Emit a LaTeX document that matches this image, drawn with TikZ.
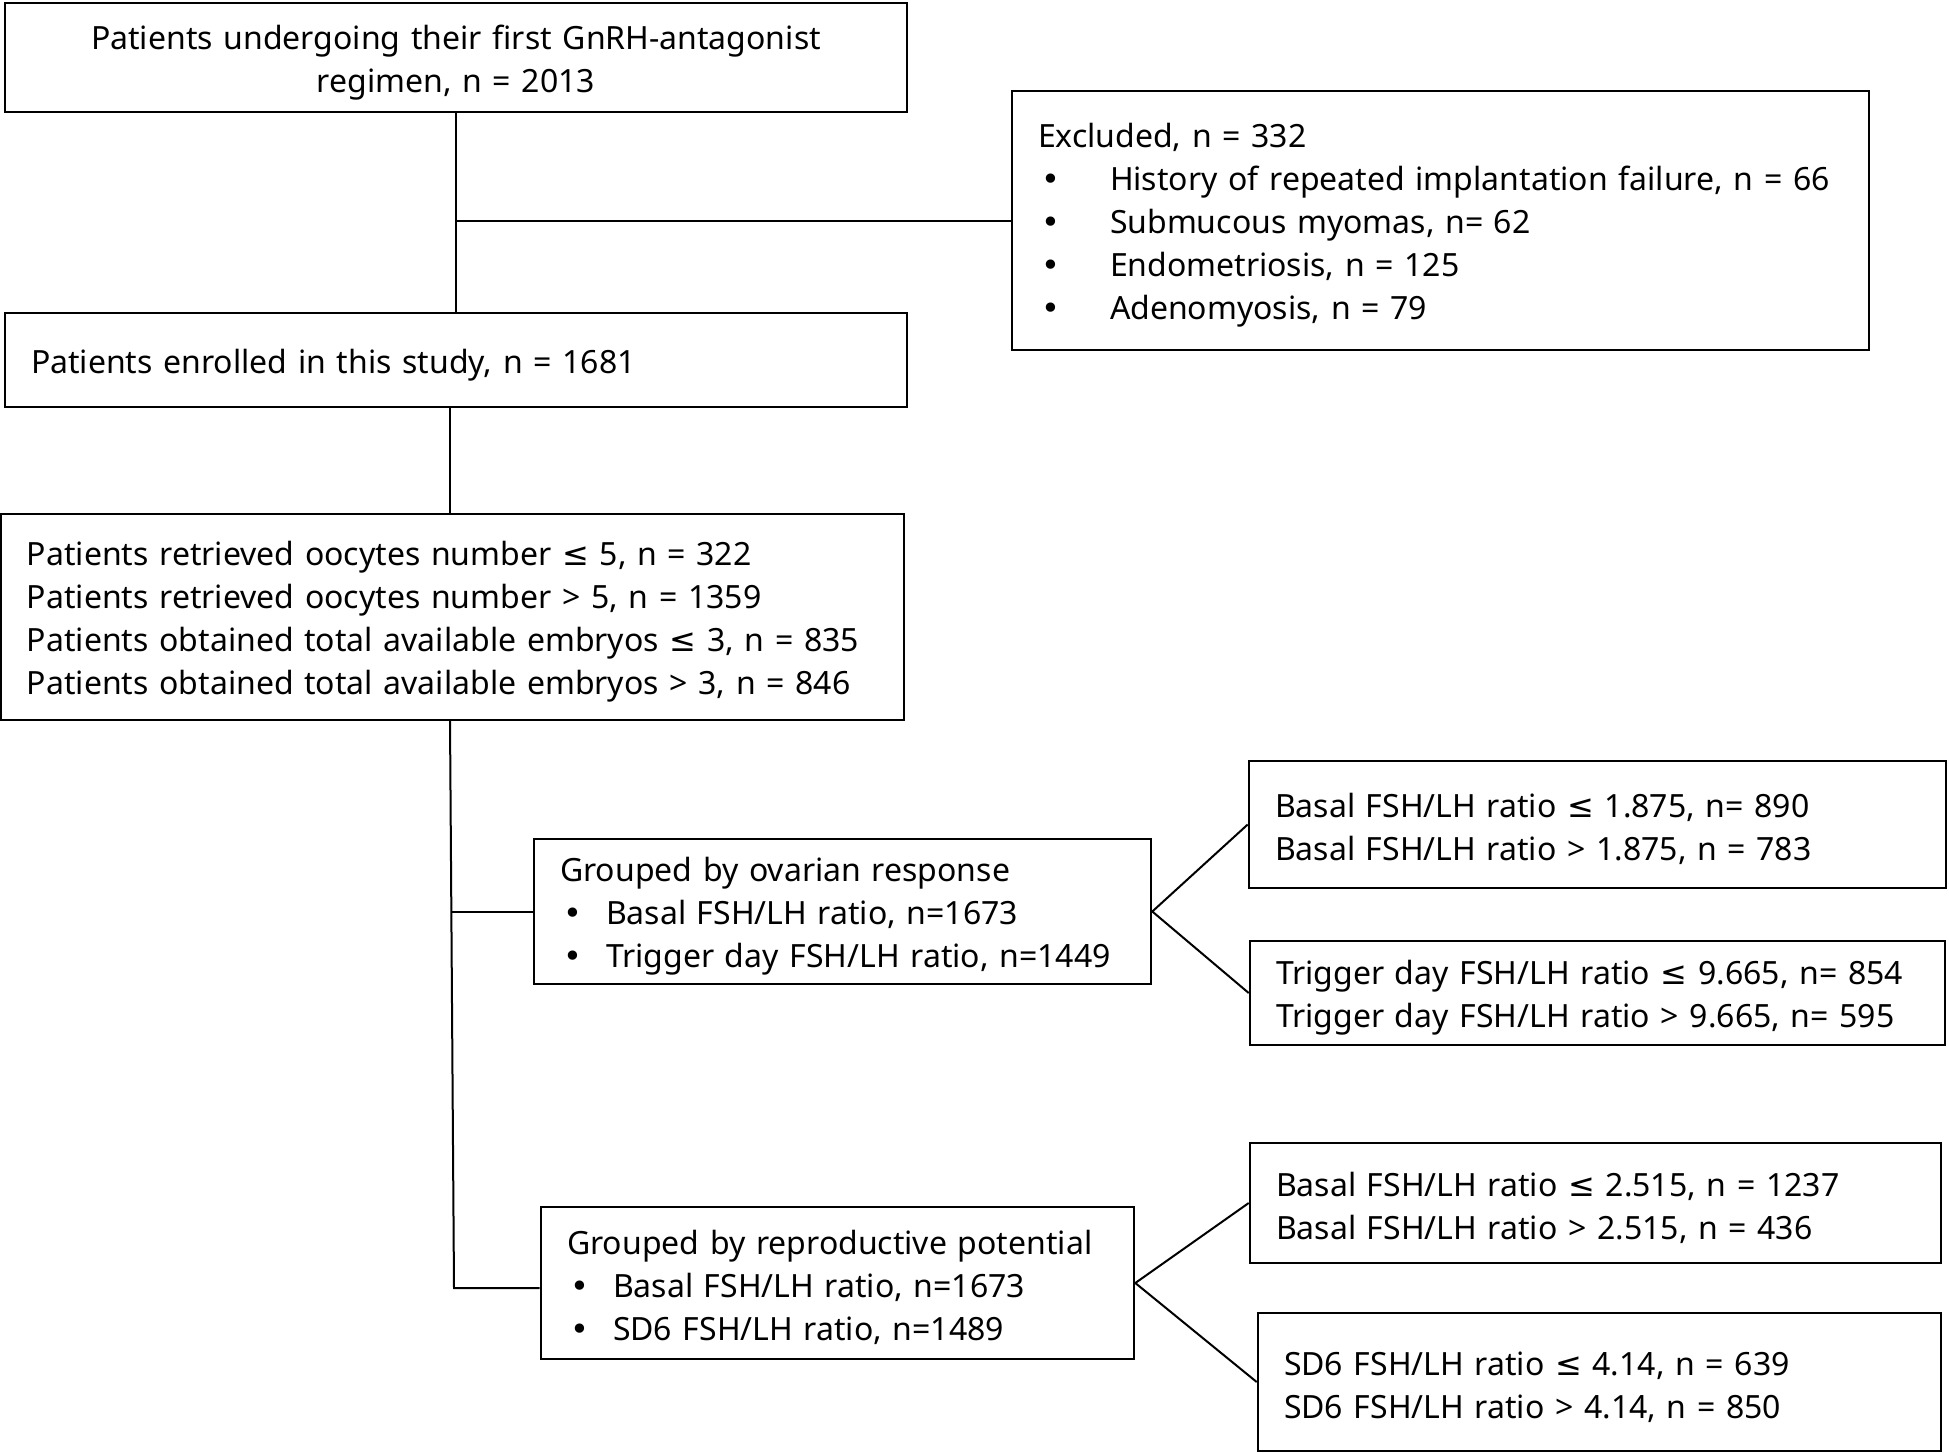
\documentclass[tikz,border=0pt]{standalone}
\usepackage{fontspec}
\setmainfont{Noto Sans}
\newfontfamily\symfont{DejaVu Sans}
\newcommand\blt[1]{\hspace*{3pt}\makebox[#1][l]{{\symfont •}}}
\newcommand\lte{{\symfont ≤}}
\begin{document}
\begin{tikzpicture}[x=1pt,y=-1pt,
  box/.style={draw, line width=2.6pt, rectangle, inner xsep=26pt, inner ysep=0pt,
    align=left, font=\fontsize{32}{43}\selectfont,
    execute at begin node={\rule{0pt}{34pt}}},
  link/.style={line width=2pt}]
\fill[white] (0,0) rectangle (1949,1453);
\useasboundingbox (0,0) rectangle (1949,1453);

\node[box, minimum width=902pt, minimum height=109pt, text width=850pt, align=center] (b1) at (456,57.5)
  {Patients undergoing their first GnRH-antagonist\\regimen, n = 2013};
\node[box, minimum width=902pt, minimum height=94pt, text width=850pt] (b2) at (456,360)
  {Patients enrolled in this study, n = 1681};
\node[box, minimum width=857pt, minimum height=259pt, text width=805pt] (ex) at (1440.5,220.5)
  {Excluded, n = 332\\
   \blt{69pt}History of repeated implantation failure, n = 66\\
   \blt{69pt}Submucous myomas, n= 62\\
   \blt{69pt}Endometriosis, n = 125\\
   \blt{69pt}Adenomyosis, n = 79};
\node[box, minimum width=903pt, minimum height=206pt, text width=851pt] (b3) at (452.5,617)
  {Patients retrieved oocytes number \lte{} 5, n = 322\\
   Patients retrieved oocytes number > 5, n = 1359\\
   Patients obtained total available embryos \lte{} 3, n = 835\\
   Patients obtained total available embryos > 3, n = 846};
\node[box, minimum width=617pt, minimum height=145pt, text width=565pt] (ov) at (842.5,911.5)
  {Grouped by ovarian response\\
   \blt{43pt}Basal FSH/LH ratio, n=1673\\
   \blt{43pt}Trigger day FSH/LH ratio, n=1449};
\node[box, minimum width=593pt, minimum height=152pt, text width=541pt] (rp) at (837.5,1283)
  {Grouped by reproductive potential\\
   \blt{43pt}Basal FSH/LH ratio, n=1673\\
   \blt{43pt}SD6 FSH/LH ratio, n=1489};
\node[box, minimum width=697pt, minimum height=127pt, text width=645pt] (bs1) at (1597.5,824.5)
  {Basal FSH/LH ratio \lte{} 1.875, n= 890\\
   Basal FSH/LH ratio > 1.875, n = 783};
\node[box, minimum width=695pt, minimum height=104pt, text width=643pt] (tg) at (1597.5,993)
  {Trigger day FSH/LH ratio \lte{} 9.665, n= 854\\
   Trigger day FSH/LH ratio > 9.665, n= 595};
\node[box, minimum width=691pt, minimum height=120pt, text width=639pt] (bs2) at (1595.5,1203)
  {Basal FSH/LH ratio \lte{} 2.515, n = 1237\\
   Basal FSH/LH ratio > 2.515, n = 436};
\node[box, minimum width=683pt, minimum height=138pt, text width=631pt] (sd) at (1599.5,1382)
  {SD6 FSH/LH ratio \lte{} 4.14, n = 639\\
   SD6 FSH/LH ratio > 4.14, n = 850};

\coordinate (t0) at (450,720);
\coordinate (tm) at (452,912);
\coordinate (t1) at (454,1288);

\draw[link] (b1.south) -- (b2.north);
\draw[link] (b1.south |- ex.west) -- (ex.west);
\draw[link] ([xshift=-6pt]b2.south) -- ([xshift=-6pt]b2.south |- b3.north);
\draw[link] (t0) -- (t1) -- (t1 -| rp.west);
\draw[link] (tm) -- (tm -| ov.west);
\draw[link] (bs1.west) -- (ov.east) -- (tg.west);
\draw[link] (bs2.west) -- (rp.east) -- (sd.west);
\end{tikzpicture}
\end{document}
